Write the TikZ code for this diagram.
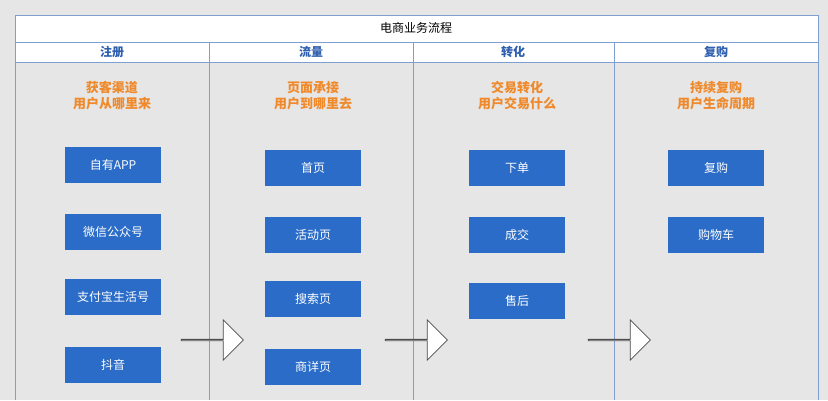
\documentclass[tikz,border=0pt]{standalone}
\usepackage{fontspec}
\setmainfont{Noto Sans CJK SC}
\usetikzlibrary{shapes.arrows}
\definecolor{bgGray}{HTML}{E6E6E6}
\definecolor{lineBlue}{HTML}{7F9FD3}
\definecolor{boxBlue}{HTML}{2A6CC8}
\definecolor{headBlue}{HTML}{2F5FAF}
\definecolor{goalOrange}{HTML}{F0892A}
\begin{document}
\begin{tikzpicture}[x=1pt, y=-1pt,
  step box/.style={fill=boxBlue, text=white, minimum width=96pt, minimum height=36pt, inner sep=0, font=\fontsize{12}{14}\selectfont},
  goal/.style={text=goalOrange, align=center, font=\bfseries\fontsize{13}{16}\selectfont},
  col head/.style={text=headBlue, font=\bfseries\fontsize{12}{14}\selectfont},
  flow arrow/.style={single arrow, draw=black!70, fill=white, thick, minimum width=40pt, minimum height=62pt, single arrow head extend=12pt, inner sep=0, single arrow tip angle=90}]
        \fill [bgGray] (0,0) rectangle (828,400);
        \useasboundingbox (0,0) rectangle (828,400);
        \fill [white] (15,15) rectangle (818,62);
        \draw [lineBlue] (15,400) -- (15,15) -- (818,15) -- (818,400);
        \draw [lineBlue] (15,42) -- (818,42);
        \draw [lineBlue] (15,62) -- (818,62);
        \foreach \x in {209, 413, 614} {
          \draw [lineBlue] (\x,42) -- (\x,400);
        }
        \node (title) at (416,28) {\fontsize{12}{14}\selectfont 电商业务流程};

        % column heads and goals
        \node [col head] (head1) at (112,52) {注册};
        \node [col head] (head2) at (311,52) {流量};
        \node [col head] (head3) at (513,52) {转化};
        \node [col head] (head4) at (716,52) {复购};
        \node [goal] (goal1) at (112,96) {获客渠道\\用户从哪里来};
        \node [goal] (goal2) at (313,96) {页面承接\\用户到哪里去};
        \node [goal] (goal3) at (517,96) {交易转化\\用户交易什么};
        \node [goal] (goal4) at (716,96) {持续复购\\用户生命周期};

        % steps
        \node [step box] (app) at (113,165) {自有APP};
        \node [step box] (wechat) at (113,232) {微信公众号};
        \node [step box] (alipay) at (113,297) {支付宝生活号};
        \node [step box] (douyin) at (113,365) {抖音};
        \node [step box] (home) at (313,168) {首页};
        \node [step box] (event) at (313,235) {活动页};
        \node [step box] (search) at (313,299) {搜索页};
        \node [step box] (detail) at (313,367) {商详页};
        \node [step box] (order) at (517,168) {下单};
        \node [step box] (deal) at (517,235) {成交};
        \node [step box] (aftersale) at (517,301) {售后};
        \node [step box] (rebuy) at (716,168) {复购};
        \node [step box] (cart) at (716,235) {购物车};

        % flow arrows
        \node [flow arrow] (arrow1) at (212,340) {};
        \node [flow arrow] (arrow2) at (416,340) {};
        \node [flow arrow] (arrow3) at (619,340) {};
      \end{tikzpicture}
\end{document}
